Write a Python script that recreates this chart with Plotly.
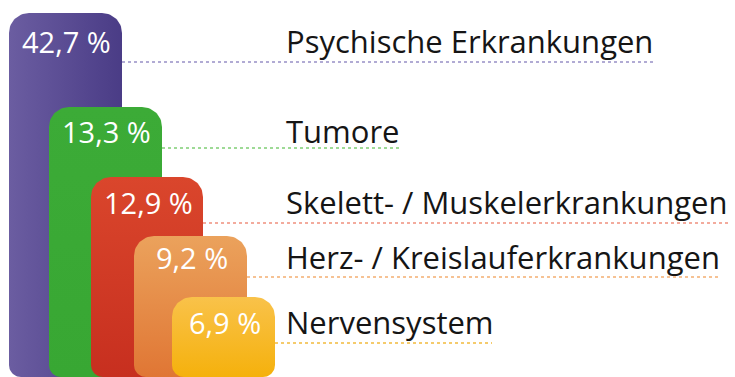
import numpy as np
import plotly.graph_objects as go

# Anteil der Arbeitsunfähigkeitstage nach Diagnosegruppen
categories = [
    "Psychische Erkrankungen",
    "Tumore",
    "Skelett- / Muskelerkrankungen",
    "Herz- / Kreislauferkrankungen",
    "Nervensystem",
]
shares = [42.7, 13.3, 12.9, 9.2, 6.9]

# gradient colours per group: (start, end, direction)
grad_colors = [
    ("#6b5da1", "#4a3c86", "horizontal"),
    ("#3cab37", "#38a733", "vertical"),
    ("#da462c", "#c72f1f", "vertical"),
    ("#eba25c", "#e07634", "vertical"),
    ("#f9c24a", "#f5b10c", "vertical"),
]
line_colors = ["#9890c6", "#7fce74", "#f0907e", "#f4ae72", "#f2bb3c"]

# staircase layout (canvas pixels, y grows downward)
W, H = 735, 377
bar_left = [9, 49, 91, 134, 172]
bar_right = [122, 162, 203, 247, 275]
bar_top = [13, 107, 177, 236, 297]
bar_bottom = 377
baseline = [52, 142, 213, 268, 333]
rule_y = [62, 148, 223, 277, 343]
rule_end = [653, 399, 729, 720, 492]
label_x = 286


def rounded_rect(x0, x1, y0, y1, rt=20, rb=12, n=16):
    """Closed outline of a box with rounded corners (y downward)."""
    xs, ys = [], []
    corners = [
        (x0 + rt, y0 + rt, rt, np.pi, 1.5 * np.pi),      # top-left
        (x1 - rt, y0 + rt, rt, 1.5 * np.pi, 2 * np.pi),  # top-right
        (x1 - rb, y1 - rb, rb, 0, 0.5 * np.pi),          # bottom-right
        (x0 + rb, y1 - rb, rb, 0.5 * np.pi, np.pi),      # bottom-left
    ]
    for cx, cy, r, a0, a1 in corners:
        t = np.linspace(a0, a1, n)
        xs.extend(cx + r * np.cos(t))
        ys.extend(cy + r * np.sin(t))
    xs.append(xs[0])
    ys.append(ys[0])
    return xs, ys


fig = go.Figure()

# dotted guide rules from each bar to the end of its label
for i in range(len(categories)):
    fig.add_trace(go.Scatter(
        x=[bar_right[i], rule_end[i]], y=[rule_y[i], rule_y[i]],
        mode="lines",
        line=dict(color=line_colors[i], width=1.6, dash="dot"),
        hoverinfo="skip", showlegend=False,
    ))

# bars, drawn back to front so each one overlaps the previous
for i, v in enumerate(shares):
    xs, ys = rounded_rect(bar_left[i], bar_right[i], bar_top[i], bar_bottom)
    c0, c1, kind = grad_colors[i]
    if kind == "horizontal":
        grad = dict(type="horizontal", start=bar_left[i], stop=bar_right[i],
                    colorscale=[[0, c0], [1, c1]])
    else:
        grad = dict(type="vertical", start=bar_top[i], stop=bar_bottom,
                    colorscale=[[0, c0], [1, c1]])
    fig.add_trace(go.Scatter(
        x=xs, y=ys, mode="lines", fill="toself",
        fillgradient=grad, line=dict(width=0),
        name=categories[i], hovertemplate=f"{categories[i]}: {v} %<extra></extra>",
        showlegend=False,
    ))
    fig.add_annotation(
        x=(bar_left[i] + bar_right[i]) / 2 + 1, y=baseline[i] - 11,
        text=f"{v:.1f} %".replace(".", ","),
        showarrow=False, xanchor="center", yanchor="middle",
        font=dict(family="Open Sans", size=29, color="white"),
    )
    fig.add_annotation(
        x=label_x - 2, y=baseline[i] - 11,
        text=categories[i],
        showarrow=False, xanchor="left", yanchor="middle",
        font=dict(family="Open Sans", size=31, color="#151515"),
    )

fig.update_layout(
    width=W, height=H,
    margin=dict(l=0, r=0, t=0, b=0),
    paper_bgcolor="white", plot_bgcolor="white",
    xaxis=dict(range=[0, W], visible=False, fixedrange=True),
    yaxis=dict(range=[H, 0], visible=False, fixedrange=True),
)

fig.write_html("out.html")
